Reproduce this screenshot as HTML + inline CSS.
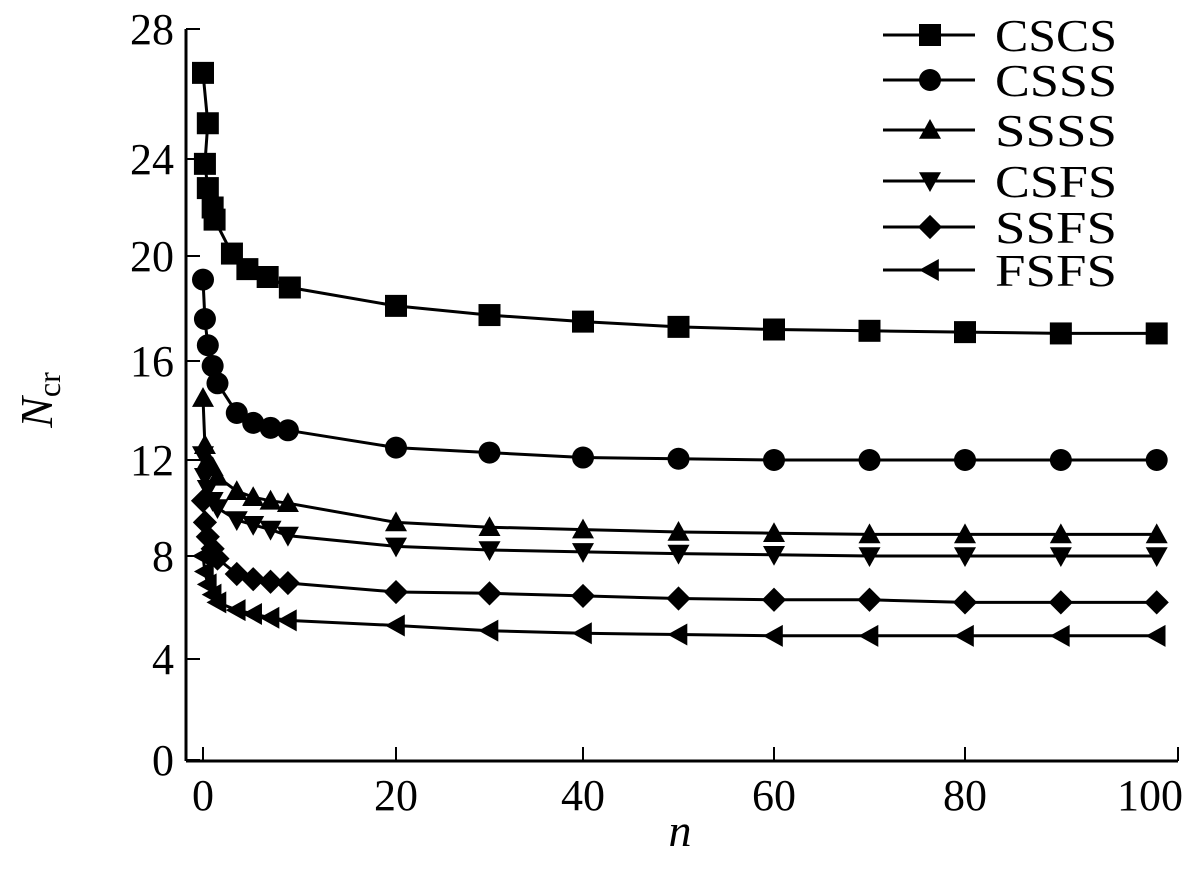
<!DOCTYPE html>
<html><head><meta charset="utf-8"><style>
html,body{margin:0;padding:0;background:#fff;}
svg{display:block;font-family:"Liberation Serif",serif;}
</style></head><body>
<svg id="chart" width="1200" height="874" viewBox="0 0 1200 874" xmlns="http://www.w3.org/2000/svg">
<g id="axes"></g>
<g id="series"></g>
<g id="legend"></g>
<text x="680" y="846" font-size="46" font-style="italic" text-anchor="middle">n</text>
<text transform="translate(52,400) rotate(-90)" font-size="46" text-anchor="middle"><tspan font-style="italic">N</tspan><tspan font-size="32" dy="8">cr</tspan></text>
</svg>
<script>
const xTicks = [0, 20, 40, 60, 80, 100];
const yTicks = [0, 4, 8, 12, 16, 20, 24, 28];
const seriesNames = ["CSCS", "CSSS", "SSSS", "CSFS", "SSFS", "FSFS"];
const nCSCS = [0, 0.5, 0.2, 0.5, 1, 1.2, 3, 4.6, 6.7, 9, 20, 30, 40, 50, 60, 70, 80, 89, 98];
const vCSCS = [26.65, 25.1, 23.8, 22.8, 22.0, 21.5, 20.1, 19.5, 19.2, 18.8, 18.1, 17.75, 17.5, 17.3, 17.2, 17.15, 17.1, 17.05, 17.05];
const nSmall = [0, 0.2, 0.5, 1, 1.5, 3.5, 5.2, 7, 8.8, 20, 30, 40, 50, 60, 70, 80, 89, 98];
const vCSSS = [19.1, 17.6, 16.6, 15.8, 15.1, 13.9, 13.5, 13.3, 13.2, 12.5, 12.3, 12.1, 12.05, 12.0, 12.0, 12.0, 12.0, 12.0];
const vSSSS = [14.5, 12.6, 12.0, 11.7, 11.3, 10.7, 10.45, 10.3, 10.2, 9.4, 9.2, 9.1, 9.0, 8.95, 8.9, 8.9, 8.9, 8.9];
const vCSFS = [12.2, 11.3, 10.8, 10.3, 10.0, 9.5, 9.3, 9.1, 8.85, 8.4, 8.25, 8.17, 8.1, 8.05, 8.0, 8.0, 8.0, 8.0];
const vSSFS = [10.3, 9.4, 8.8, 8.3, 7.9, 7.3, 7.1, 7.0, 6.95, 6.6, 6.55, 6.45, 6.35, 6.3, 6.3, 6.2, 6.2, 6.2];
const vFSFS = [8.0, 7.4, 6.9, 6.5, 6.2, 5.9, 5.75, 5.6, 5.5, 5.3, 5.1, 5.0, 4.95, 4.9, 4.9, 4.9, 4.9, 4.9];

const NS = "http://www.w3.org/2000/svg";
const xTickPx = [203, 396, 583, 774, 965, 1178];
const yTickPx = [760, 659, 556, 460, 361, 256, 159, 29];
function interp(v, vals, px) {
  let i = 0;
  while (i < vals.length - 2 && v > vals[i + 1]) i++;
  const t = (v - vals[i]) / (vals[i + 1] - vals[i]);
  return px[i] + t * (px[i + 1] - px[i]);
}
const xs = v => interp(v, xTicks, xTickPx);
const ys = v => interp(v, yTicks, yTickPx);
function mk(tag, attrs, parent) {
  const e = document.createElementNS(NS, tag);
  for (const k in attrs) e.setAttribute(k, attrs[k]);
  parent.appendChild(e);
  return e;
}
const axes = document.getElementById("axes");
const xa = mk("path", {d: "M186 761 H1178", stroke: "#000", "stroke-width": 3, fill: "none"}, axes);


const ya = mk("path", {d: "M186 761 V29", stroke: "#000", "stroke-width": 3, fill: "none"}, axes);


xTicks.forEach(t => {
  const x = xs(t);
  const tk = mk("line", {x1: x, x2: x, y1: 761, y2: 747, stroke: "#000", "stroke-width": 2}, axes);
  
  
  const lb = mk("text", {x: t === 100 ? x - 28 : x, y: 810, "font-size": 44, "text-anchor": "middle"}, axes);
  lb.textContent = t;
  
  
});
yTicks.forEach(t => {
  const y = ys(t);
  const tk = mk("line", {x1: 186, x2: 200, y1: y, y2: y, stroke: "#000", "stroke-width": 2}, axes);
  
  
  const lb = mk("text", {x: 174, y: y + 15, "font-size": 44, "text-anchor": "end"}, axes);
  lb.textContent = t;
  
  
});
function marker(kind, x, y, parent, s) {
  s = s || 11;
  let e;
  if (kind === 0) e = mk("rect", {x: x - s, y: y - s, width: 2 * s, height: 2 * s}, parent);
  else if (kind === 1) e = mk("circle", {cx: x, cy: y, r: s}, parent);
  else if (kind === 2) e = mk("polygon", {points: `${x},${y - s} ${x + s},${y + s * 0.8} ${x - s},${y + s * 0.8}`}, parent);
  else if (kind === 3) e = mk("polygon", {points: `${x},${y + s} ${x + s},${y - s * 0.8} ${x - s},${y - s * 0.8}`}, parent);
  else if (kind === 4) e = mk("polygon", {points: `${x},${y - s * 1.1} ${x + s * 1.1},${y} ${x},${y + s * 1.1} ${x - s * 1.1},${y}`}, parent);
  else e = mk("polygon", {points: `${x - s},${y} ${x + s * 0.8},${y - s} ${x + s * 0.8},${y + s}`}, parent);
  e.setAttribute("fill", "#000");
  return e;
}
const sg = document.getElementById("series");
const allN = [nCSCS, nSmall, nSmall, nSmall, nSmall, nSmall];
const allV = [vCSCS, vCSSS, vSSSS, vCSFS, vSSFS, vFSFS];
allV.forEach((vals, si) => {
  const ns = allN[si];
  const g = mk("g", {}, sg);
  
  
  const d = vals.map((v, i) => (i ? "L" : "M") + xs(ns[i]).toFixed(1) + " " + ys(v).toFixed(1)).join(" ");
  const ln = mk("path", {d: d, stroke: "#000", "stroke-width": 3, fill: "none"}, g);
  
  
  vals.forEach((v, i) => {
    const m = marker(si, xs(ns[i]), ys(v), g);
    
    
  });
});
const lg = document.getElementById("legend");
const legY = [35, 80, 130, 181, 227, 270];
seriesNames.forEach((name, i) => {
  const g = mk("g", {}, lg);
  
  
  mk("line", {x1: 883, x2: 975, y1: legY[i], y2: legY[i], stroke: "#000", "stroke-width": 3}, g);
  marker(i, 930, legY[i], g, 11);
  const t = mk("text", {x: 995, y: legY[i] + 16, "font-size": 46, textLength: 122, lengthAdjust: "spacingAndGlyphs"}, g);
  t.textContent = name;
  
  
});
</script>
</body></html>
